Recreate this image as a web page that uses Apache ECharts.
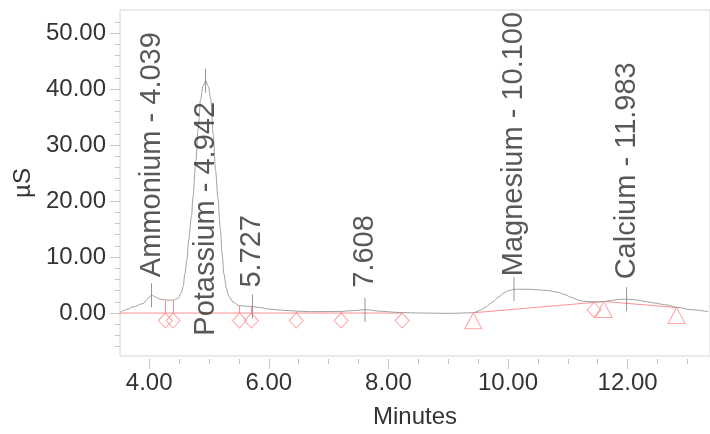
<!DOCTYPE html>
<html>
<head>
<meta charset="utf-8">
<script src="https://cdn.jsdelivr.net/npm/echarts@6/dist/echarts.min.js"></script>
<style>
html,body{margin:0;padding:0;background:#fff;}
#chart{width:710px;height:434px;}
</style>
</head>
<body>
<div id="chart"></div>
<script>
// ---- data ----
const traceT = [3.51, 3.62, 3.73, 3.90, 3.98, 4.04, 4.10, 4.18, 4.29, 4.40, 4.48, 4.54, 4.57, 4.595, 4.63, 4.66, 4.71, 4.73, 4.78, 4.82, 4.86, 4.90, 4.945, 4.99, 5.03, 5.07, 5.11, 5.15, 5.19, 5.22, 5.25, 5.29, 5.33, 5.40, 5.51, 5.73, 5.85, 6.01, 6.23, 6.46, 6.68, 7.21, 7.43, 7.61, 7.90, 8.18, 8.57, 9.01, 9.42, 9.51, 9.62, 9.73, 9.85, 9.93, 10.01, 10.11, 10.35, 10.51, 10.68, 10.84, 10.95, 11.06, 11.18, 11.26, 11.46, 11.62, 11.76, 11.88, 12.01, 12.15, 12.29, 12.45, 12.62, 12.82, 13.07, 13.35];
const traceV = [0.1, 0.6, 1.1, 1.7, 2.6, 3.2, 2.9, 2.5, 2.3, 2.3, 2.6, 3.7, 4.8, 6.9, 9.5, 13.0, 17.5, 20.5, 27.0, 33.0, 38.2, 40.5, 41.5, 40.5, 38.2, 32.0, 25.5, 20.5, 15.0, 10.5, 7.0, 4.5, 3.0, 2.0, 1.3, 1.15, 1.0, 0.7, 0.5, 0.35, 0.25, 0.3, 0.45, 0.6, 0.3, 0.1, 0.0, -0.05, 0.05, 0.4, 1.0, 1.9, 2.9, 3.6, 4.0, 4.25, 4.25, 4.15, 4.0, 3.7, 3.3, 2.8, 2.3, 2.1, 2.0, 2.07, 2.3, 2.45, 2.45, 2.35, 2.07, 1.8, 1.5, 1.05, 0.6, 0.25];

const baseAT = [3.51, 8.23];
const baseAV = [0, 0];
const baseBT = [9.42, 11.44, 11.60, 12.82];
const baseBV = [0.05, 1.9, 2.07, 1.0];

const diamondT = [4.27, 4.40, 5.51, 5.71, 6.46, 7.21, 8.23, 11.44];
const diamondV = [0, 0, 0, 0, 0, 0, 0, 1.9];
const triangleT = [9.42, 11.60, 12.82];
const triangleV = [0.05, 2.07, 1.0];

const dropT = [4.27, 4.40, 5.51, 5.71, 6.46, 7.21, 8.23, 11.44, 12.82];
const dropBase = [0, 0, 0, 0, 0, 0, 0, 1.9, 1.0];
const dropTop = [2.3, 2.3, 1.3, 1.15, 0.35, 0.3, 0.1, 2.0, 1.05];

const peakT = [4.039, 4.942, 5.727, 7.608, 10.100, 11.983];
const peakV = [3.2, 41.5, 1.15, 0.6, 4.25, 2.45];
const peakLabels = ['Ammonium - 4.039', 'Potassium - 4.942', '5.727', '7.608', 'Magnesium - 10.100', 'Calcium - 11.983'];

const xTicks = [4, 6, 8, 10, 12];
const xMinor = [3.5, 4.5, 5, 5.5, 6.5, 7, 7.5, 8.5, 9, 9.5, 10.5, 11, 11.5, 12.5, 13];
const yTicks = [0, 10, 20, 30, 40, 50];
const yMinor = [-6, -4, -2, 2, 4, 6, 8, 12, 14, 16, 18, 22, 24, 26, 28, 32, 34, 36, 38, 42, 44, 46, 48, 52];

// ---- style ----
const FONT = '"Liberation Sans", Arial, Helvetica, sans-serif';
const RED = '#ff8f8f';
const labelGap = [6, -267, 7, 10, 1, 8];
const X_MIN = 3.512, X_MAX = 13.378, Y_MIN = -7.67, Y_MAX = 54.13;

const chart = echarts.init(document.getElementById('chart'), null, {renderer: 'canvas'});

const tickStyle = {color: '#c4c4c4', width: 1};
const labelStyle = {fontSize: 24, color: '#333', fontFamily: FONT};

const option = {
  animation: false,
  backgroundColor: '#ffffff',
  grid: {left: 120, top: 10, right: -2, bottom: 75, show: true, borderColor: '#d6d6d6', borderWidth: 1, backgroundColor: 'transparent'},
  xAxis: [
    {
      type: 'value', min: X_MIN, max: X_MAX, position: 'bottom', offset: 3,
      axisLine: {show: false, onZero: false}, splitLine: {show: false},
      axisTick: {show: true, length: 10, lineStyle: tickStyle, customValues: xTicks},
      axisLabel: Object.assign({customValues: xTicks, margin: 12, formatter: v => v.toFixed(2)}, labelStyle),
      name: 'Minutes', nameLocation: 'middle', nameGap: 46,
      nameTextStyle: {fontSize: 24, color: '#333', fontFamily: FONT}
    },
    {
      type: 'value', min: X_MIN, max: X_MAX, position: 'bottom', offset: 3,
      axisLine: {show: false, onZero: false}, splitLine: {show: false},
      axisTick: {show: true, length: 5, lineStyle: tickStyle, customValues: xMinor},
      axisLabel: {show: false}
    }
  ],
  yAxis: [
    {
      type: 'value', min: Y_MIN, max: Y_MAX, position: 'left',
      axisLine: {show: false, onZero: false}, splitLine: {show: false},
      axisTick: {show: true, length: 10, lineStyle: tickStyle, customValues: yTicks},
      axisLabel: Object.assign({customValues: yTicks, margin: 14, formatter: v => v.toFixed(2)}, labelStyle),
      name: 'µS', nameLocation: 'middle', nameGap: 85,
      nameTextStyle: {fontSize: 24, color: '#333', fontFamily: FONT}
    },
    {
      type: 'value', min: Y_MIN, max: Y_MAX, position: 'left',
      axisLine: {show: false, onZero: false}, splitLine: {show: false},
      axisTick: {show: true, length: 5, lineStyle: tickStyle, customValues: yMinor},
      axisLabel: {show: false}
    }
  ],
  series: [
    {
      type: 'line', xAxisIndex: 0, yAxisIndex: 0, silent: true,
      data: traceT.map((t, i) => [t, traceV[i]]),
      showSymbol: false, smooth: 0.3, smoothMonotone: 'x',
      lineStyle: {color: '#a0a0a0', width: 1}, z: 2
    },
    {
      type: 'line', xAxisIndex: 0, yAxisIndex: 0, silent: true,
      data: baseAT.map((t, i) => [t, baseAV[i]]),
      showSymbol: false, lineStyle: {color: RED, width: 1}, z: 1,
      markLine: {
        silent: true, symbol: ['none', 'none'], label: {show: false}, animation: false,
        lineStyle: {color: RED, width: 1, type: 'solid'},
        data: dropT.map((t, i) => [{coord: [t, dropBase[i]]}, {coord: [t, dropTop[i]]}])
      }
    },
    {
      type: 'line', xAxisIndex: 0, yAxisIndex: 0, silent: true,
      data: baseBT.map((t, i) => [t, baseBV[i]]),
      showSymbol: false, lineStyle: {color: RED, width: 1}, z: 1
    },
    {
      type: 'scatter', xAxisIndex: 0, yAxisIndex: 0, silent: true,
      data: diamondT.map((t, i) => [t, diamondV[i]]),
      symbol: 'diamond', symbolSize: [14, 15], symbolOffset: [0, 7.5],
      itemStyle: {color: 'rgba(255,255,255,0)', borderColor: RED, borderWidth: 1}, z: 3
    },
    {
      type: 'scatter', xAxisIndex: 0, yAxisIndex: 0, silent: true,
      data: triangleT.map((t, i) => [t, triangleV[i]]),
      symbol: 'triangle', symbolSize: [17, 16], symbolOffset: [0, 8],
      itemStyle: {color: 'rgba(255,255,255,0)', borderColor: RED, borderWidth: 1}, z: 3
    },
    {
      type: 'scatter', xAxisIndex: 0, yAxisIndex: 0, silent: true,
      data: peakT.map((t, i) => ({
        value: [t, peakV[i]],
        label: {distance: labelGap[i]}
      })),
      symbol: 'rect', symbolSize: [1, 24],
      itemStyle: {color: '#7a7a7a'}, z: 4,
      label: {
        show: true, position: 'top', rotate: 90, align: 'left', verticalAlign: 'middle',
        fontSize: 29, color: '#2e2e2e', fontFamily: FONT,
        formatter: p => peakLabels[p.dataIndex]
      }
    }
  ]
};
chart.setOption(option);
</script>
</body>
</html>
